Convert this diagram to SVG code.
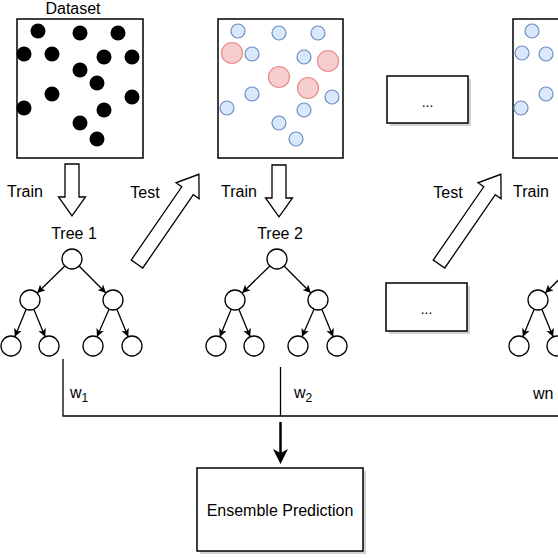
<svg xmlns="http://www.w3.org/2000/svg" width="558" height="558" viewBox="0 0 558 558">
<defs>
<style>
text{font-family:"Liberation Sans",Arial,sans-serif;fill:#000}
.lbl{font-size:16px}
.c{text-anchor:middle}
.box{fill:#fff;stroke:#000;stroke-width:1.5}
.shadow{fill:#b3b3b3;opacity:.6}
.dot{fill:#000}
.blue{fill:#dae8fc;stroke:#6c8ebf;stroke-width:1.2}
.red{fill:#f8cecc;stroke:#e58e8c;stroke-width:1.2}
.node{fill:#fff;stroke:#000;stroke-width:1.3}
.edge{stroke:#000;stroke-width:1.3;fill:none;marker-end:url(#ah)}
.line{stroke:#000;stroke-width:1.3;fill:none}
.block{fill:#fff;stroke:#000;stroke-width:1.3;stroke-linejoin:miter}
</style>
<marker id="ah" markerUnits="userSpaceOnUse" markerWidth="10" markerHeight="10" refX="8" refY="4" orient="auto">
<path d="M0,0 L8,4 L0,8 L2,4 z" fill="#000"/>
</marker>
<g id="treeShape">
<path class="edge" d="M-7.16,6.99 L-34.84,34.01"/>
<path class="edge" d="M7.07,7.07 L33.93,33.93"/>
<path class="edge" d="M-45.82,50.24 L-57.18,77.76"/>
<path class="edge" d="M-38.18,50.24 L-26.82,77.76"/>
<path class="edge" d="M37.01,50.17 L24.99,77.83"/>
<path class="edge" d="M44.82,50.24 L56.18,77.76"/>
<circle class="node" cx="0" cy="0" r="10"/>
<circle class="node" cx="-42" cy="41" r="10"/>
<circle class="node" cx="41" cy="41" r="10"/>
<circle class="node" cx="-61" cy="87" r="10"/>
<circle class="node" cx="-23" cy="87" r="10"/>
<circle class="node" cx="21" cy="87" r="10"/>
<circle class="node" cx="60" cy="87" r="10"/>
</g>
<path id="downArrow" class="block" d="M-7,0 L7,0 L7,33 L13.5,33 L0,52 L-13.5,33 L-7,33 Z"/>
<path id="diagArrow" class="block" d="M0,-7 L89,-7 L89,-14 L109,0 L89,14 L89,7 L0,7 Z"/>
</defs>
<rect width="558" height="558" fill="#fff"/>

<g id="dataset">
<text class="lbl c" x="73" y="13.5">Dataset</text>
<rect class="box" x="17" y="19" width="126" height="139"/>
<circle class="dot" cx="38" cy="31" r="7.5"/>
<circle class="dot" cx="80" cy="33" r="7.5"/>
<circle class="dot" cx="118" cy="33" r="7.5"/>
<circle class="dot" cx="24" cy="54" r="7.5"/>
<circle class="dot" cx="52" cy="54" r="7.5"/>
<circle class="dot" cx="104" cy="57" r="7.5"/>
<circle class="dot" cx="132" cy="57" r="7.5"/>
<circle class="dot" cx="80" cy="70" r="7.5"/>
<circle class="dot" cx="97" cy="83" r="7.5"/>
<circle class="dot" cx="52" cy="94" r="7.5"/>
<circle class="dot" cx="132" cy="97" r="7.5"/>
<circle class="dot" cx="24" cy="108" r="7.5"/>
<circle class="dot" cx="104" cy="110" r="7.5"/>
<circle class="dot" cx="80" cy="123" r="7.5"/>
<circle class="dot" cx="97" cy="139" r="7.5"/>
</g>

<g id="sample2">
<rect class="box" x="218" y="19" width="125" height="139"/>
<circle class="blue" cx="238" cy="31" r="7"/>
<circle class="blue" cx="279" cy="33" r="7"/>
<circle class="blue" cx="318" cy="33" r="7"/>
<circle class="blue" cx="252" cy="54" r="7"/>
<circle class="blue" cx="304" cy="57" r="7"/>
<circle class="blue" cx="252" cy="94" r="7"/>
<circle class="blue" cx="227" cy="108" r="7"/>
<circle class="blue" cx="332" cy="97" r="7"/>
<circle class="blue" cx="304" cy="110" r="7"/>
<circle class="blue" cx="279" cy="123" r="7"/>
<circle class="blue" cx="296" cy="139" r="7"/>
<circle class="red" cx="232" cy="53" r="10.5"/>
<circle class="red" cx="328" cy="61" r="10.5"/>
<circle class="red" cx="279" cy="77" r="10.5"/>
<circle class="red" cx="308" cy="88" r="10.5"/>
</g>

<g id="sample3">
<rect class="box" x="513" y="19" width="126" height="139"/>
<circle class="blue" cx="532" cy="31" r="7"/>
<circle class="blue" cx="522" cy="53" r="7"/>
<circle class="blue" cx="546" cy="54" r="7"/>
<circle class="blue" cx="546" cy="94" r="7"/>
<circle class="blue" cx="521" cy="108" r="7"/>
</g>

<g id="dotsTop">
<rect class="shadow" x="390" y="79" width="81" height="47"/>
<rect class="box" x="387" y="76" width="81" height="47"/>
<text class="c" x="427.5" y="107" font-size="14">...</text>
</g>

<g id="dotsMid">
<rect class="shadow" x="389" y="286" width="81" height="48"/>
<rect class="box" x="386" y="283" width="81" height="48"/>
<text class="c" x="426.5" y="314" font-size="14">...</text>
</g>

<g id="tree1">
<text class="lbl c" x="74" y="239">Tree 1</text>
<use href="#treeShape" transform="translate(72,259)"/>
</g>

<g id="tree2">
<text class="lbl c" x="280" y="239">Tree 2</text>
<use href="#treeShape" transform="translate(277,259)"/>
</g>

<g id="tree3">
<use href="#treeShape" transform="translate(580,259)"/>
</g>

<g id="ensemble">
<rect class="shadow" x="200" y="471" width="166" height="83"/>
<rect class="box" x="197" y="468" width="166" height="83"/>
<text class="lbl c" x="280" y="516">Ensemble Prediction</text>
</g>

<g id="connectors">
<use href="#downArrow" transform="translate(72,164)"/>
<use href="#downArrow" transform="translate(279,165)"/>
<use href="#diagArrow" transform="translate(137,264) rotate(-55.4)"/>
<use href="#diagArrow" transform="translate(439,264) rotate(-55.4)"/>
<text class="lbl c" x="25" y="197">Train</text>
<text class="lbl c" x="145" y="198">Test</text>
<text class="lbl c" x="239" y="197">Train</text>
<text class="lbl c" x="448" y="198">Test</text>
<text class="lbl c" x="531" y="197">Train</text>
<path class="line" d="M63,359 L63,416 M280.5,367 L280.5,416 M62.4,416 L560,416"/>
<path d="M280.5,422 L280.5,455" stroke="#000" stroke-width="2.5" fill="none"/>
<path d="M273,449 L280.5,464 L288,449 L280.5,453 Z" fill="#000"/>
<text x="70" y="398" font-size="16">w<tspan font-size="12" dy="4">1</tspan></text>
<text x="294" y="398" font-size="16">w<tspan font-size="12" dy="4">2</tspan></text>
<text x="533" y="399" font-size="16">wn</text>
</g>
</svg>
